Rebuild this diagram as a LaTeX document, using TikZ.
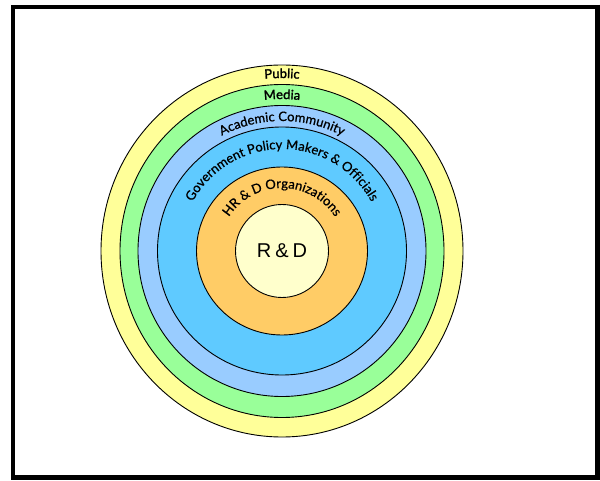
\documentclass[tikz,border=0pt]{standalone}
\usepackage{fontspec}
\setmainfont{Liberation Sans}
\newfontfamily\ringfont{Lato}[FakeBold=0.8]
\newfontfamily\ringboldfont{Lato}[FakeBold=1.6]
\usetikzlibrary{decorations.text}
\definecolor{publicyellow}{HTML}{FFFF99}
\definecolor{mediagreen}{HTML}{99FF99}
\definecolor{academicblue}{HTML}{99CCFF}
\definecolor{govblue}{HTML}{5FCAFF}
\definecolor{hrdorange}{HTML}{FFCC66}
\definecolor{rdcream}{HTML}{FFFFCC}
\tikzset{
  ring/.style={draw=black,line width=0.9pt},
}
\begin{document}
\begin{tikzpicture}[x=1pt,y=1pt]
\useasboundingbox (0,0) rectangle (600,480);
\coordinate (c) at (282,229);
% rings, outside in
\draw[ring,fill=publicyellow] (c) ellipse [x radius=181,y radius=186];
\draw[ring,fill=mediagreen] (c) ellipse [x radius=162,y radius=166.5];
\draw[ring,fill=academicblue] (c) ellipse [x radius=144,y radius=145.5];
\draw[ring,fill=govblue] (c) ellipse [x radius=124.5,y radius=124];
\draw[ring,fill=hrdorange] (c) ellipse [x radius=85.5,y radius=84];
\draw[ring,fill=rdcream] (c) circle [radius=46.5];
\node[font=\fontsize{20}{20}\selectfont] (rd) at (c) {R\hspace{0.2em}\&\hspace{0.2em}D};
% labels along the rings
\path[decorate,decoration={text along path,text align=center,
  text={|\ringboldfont\fontsize{13}{13}\selectfont|Public}}]
  ([xshift=-173pt]c) arc[start angle=180,end angle=0,radius=173];
\path[decorate,decoration={text along path,text align=center,
  text={|\ringboldfont\fontsize{13}{13}\selectfont|Media}}]
  ([xshift=-152pt]c) arc[start angle=180,end angle=0,radius=152];
\path[decorate,decoration={text along path,text align=center,
  text={|\ringfont\fontsize{13}{13}\selectfont|Academic Community}}]
  ([xshift=-130pt]c) arc[start angle=180,end angle=0,radius=130];
\path[decorate,decoration={text along path,text align=center,
  text={|\ringfont\fontsize{13}{13}\selectfont|Government Policy Makers {\&} Officials}}]
  ([xshift=-102pt]c) arc[start angle=180,end angle=0,radius=102];
\path[decorate,decoration={text along path,text align=center,
  text={|\ringfont\fontsize{13}{13}\selectfont|HR {\&} D Organizations}}]
  ([xshift=-63pt]c) arc[start angle=180,end angle=0,radius=63];
% frame
\draw[line width=4pt] (13,2.5) -- (13,472.5) -- (597.5,472.5);
\draw[line width=5pt] (597.5,475) -- (597.5,2.5) -- (11,2.5);
\end{tikzpicture}
\end{document}
